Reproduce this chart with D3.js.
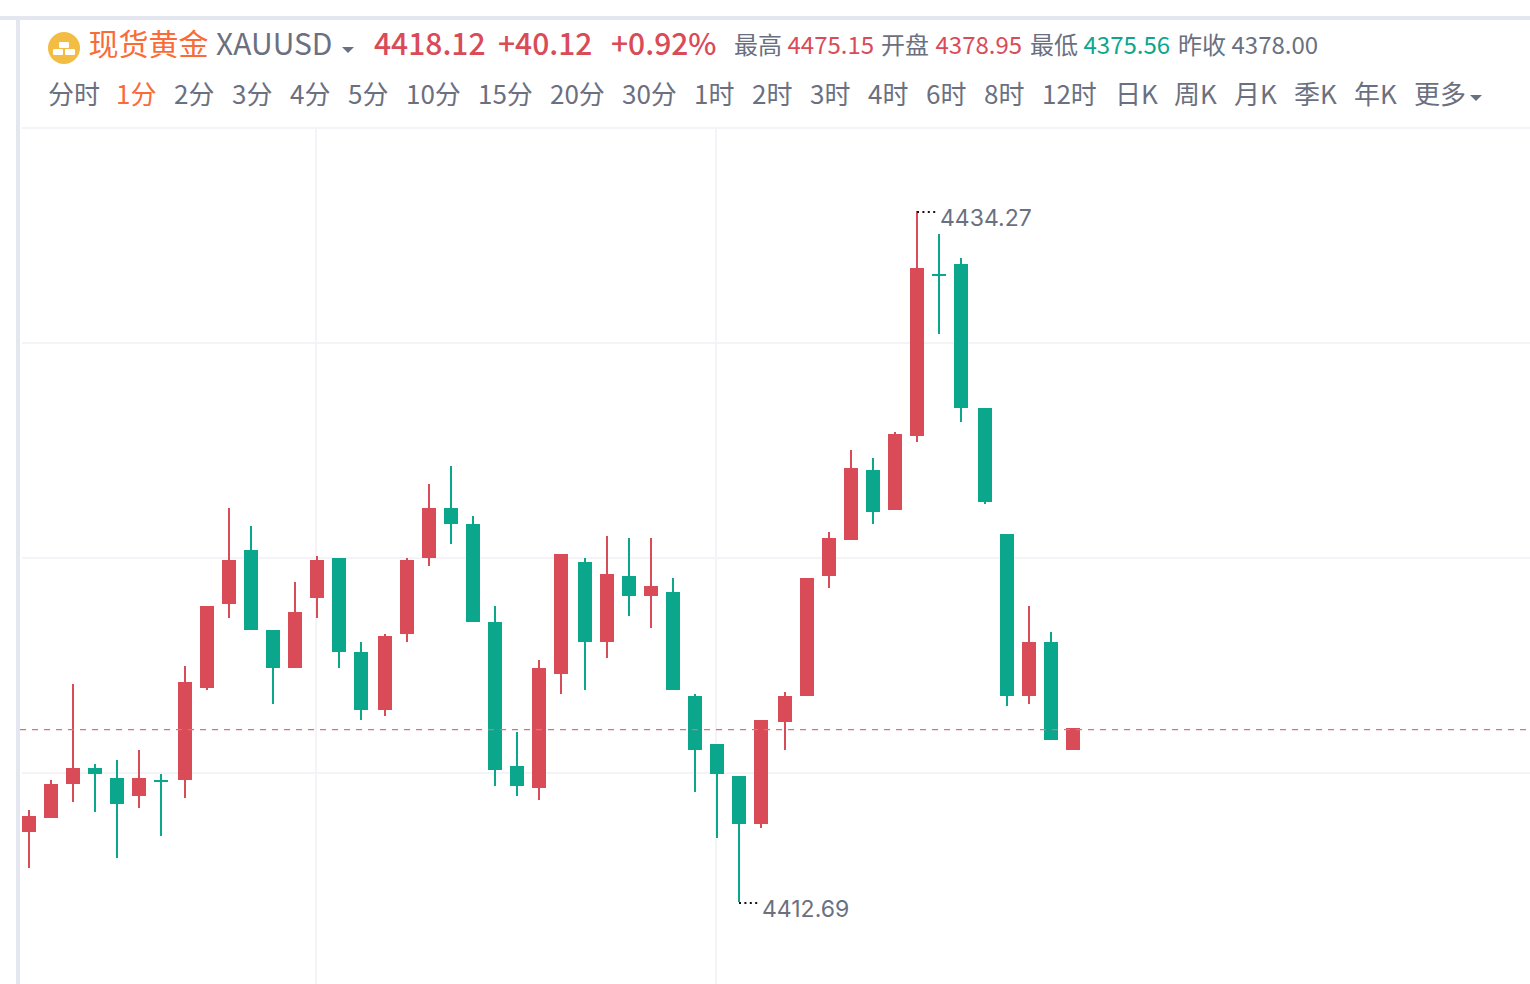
<!DOCTYPE html>
<html>
<head>
<meta charset="utf-8">
<script src="https://cdn.jsdelivr.net/npm/d3@7"></script>
<style>
  html, body { margin: 0; padding: 0; background: #fff; overflow: hidden; }
  svg { display: block; }
  text { font-family: "Noto Sans CJK SC", "Noto Sans", sans-serif; }
</style>
</head>
<body>
<script>
// candle values, one minute each
const opens = [4414.88,4415.31,4416.38,4416.88,4416.56,4416.00,4416.50,4416.50,4419.37,4422.00,4423.68,4421.19,4420.00,4422.18,4423.43,4420.50,4418.69,4421.06,4423.43,4425.00,4424.50,4421.43,4416.94,4416.25,4419.81,4423.31,4420.81,4422.87,4422.25,4422.37,4419.12,4417.62,4416.63,4415.13,4418.31,4419.12,4422.87,4424.00,4426.18,4424.93,4427.24,4432.30,4432.62,4428.12,4424.18,4419.12,4420.81,4417.44];
const closes = [4415.38,4416.38,4416.88,4416.69,4415.75,4416.56,4416.44,4419.56,4421.93,4423.37,4421.19,4420.00,4421.75,4423.37,4420.50,4418.69,4421.00,4423.37,4425.00,4424.50,4421.43,4416.81,4416.31,4420.00,4423.56,4420.81,4422.93,4422.25,4422.56,4419.31,4417.44,4416.69,4415.13,4418.37,4419.12,4422.81,4424.06,4426.24,4424.87,4427.31,4432.49,4432.24,4428.12,4425.18,4419.12,4420.81,4417.75,4418.12];
const highs = [4415.56,4416.50,4419.50,4417.00,4417.13,4417.44,4416.69,4420.06,4421.93,4425.00,4424.43,4421.19,4422.68,4423.50,4423.43,4420.81,4421.06,4423.43,4425.74,4426.31,4424.75,4421.93,4418.00,4420.25,4423.56,4423.43,4424.12,4424.06,4424.06,4422.81,4419.19,4417.62,4416.63,4418.37,4419.25,4422.81,4424.25,4426.81,4426.56,4427.37,4434.27,4433.55,4432.80,4428.12,4424.18,4421.93,4421.12,4418.12];
const lows = [4413.75,4415.31,4415.81,4415.50,4414.07,4415.63,4414.75,4415.94,4419.31,4421.56,4421.19,4418.87,4420.00,4421.56,4420.00,4418.37,4418.50,4420.81,4423.18,4423.87,4421.43,4416.31,4416.00,4415.88,4419.19,4419.31,4420.31,4421.62,4421.25,4419.31,4416.13,4414.69,4412.69,4415.00,4417.44,4419.12,4422.50,4424.00,4424.50,4424.93,4427.06,4430.43,4427.68,4425.12,4418.81,4418.87,4417.75,4417.44];
const gridPrices = [4430.15, 4423.43, 4416.72];
const gridCandles = [13, 31];
const lastPrice = 4418.12;
const maxMark = { index: 40, value: 4434.27 };
const minMark = { index: 32, value: 4412.69 };

// header texts
const stats = [
  { label: "最高", value: "4475.15", kind: "up" },
  { label: "开盘", value: "4378.95", kind: "up" },
  { label: "最低", value: "4375.56", kind: "down" },
  { label: "昨收", value: "4378.00", kind: "flat" },
];
const periods = ["分时","1分","2分","3分","4分","5分","10分","15分","20分","30分","1时","2时","3时","4时","6时","8时","12时","日K","周K","月K","季K","年K","更多"];
const activePeriod = "1分";
const periodX = [48,116,174,232,290,348,406,478,550,622,694,752,810,868,926,984,1042,1115,1174,1234,1294,1354,1414];

const colors = {
  up: "#da4b58", down: "#0aa78d", flat: "#6b7080", orange: "#fb6b37",
  frame: "#e4e6f0", grid: "#f4f4f8", dash: "#d9727f", dot: "#111",
};

const width = 1530, height = 984;

const svg = d3.select("body").append("svg")
  .attr("width", width)
  .attr("height", height);

// set the ranges
const x = d3.scaleLinear().domain([0, opens.length - 1]).range([28.6, 1072.94]);
const y = d3.scaleLinear().domain([minMark.value, maxMark.value]).range([902, 211]);

// candle centers sit on odd pixels
const cx = (i) => 2 * Math.round((x(i) - 1) / 2) + 1;

// page frame
svg.append("rect").attr("x", 0).attr("y", 16).attr("width", width).attr("height", 4).attr("fill", colors.frame);
svg.append("rect").attr("x", 16).attr("y", 20).attr("width", 4).attr("height", height - 20).attr("fill", colors.frame);
svg.append("rect").attr("x", 22).attr("y", 127).attr("width", width - 22).attr("height", 2).attr("fill", colors.grid);

// grid
svg.selectAll(".grid-h").data(gridPrices).enter().append("rect")
  .attr("x", 22).attr("width", width - 22)
  .attr("y", (d) => Math.round(y(d)) - 1).attr("height", 2)
  .attr("fill", colors.grid);
svg.selectAll(".grid-v").data(gridCandles).enter().append("rect")
  .attr("x", (d) => cx(d) - 2).attr("width", 2)
  .attr("y", 129).attr("height", height - 129)
  .attr("fill", colors.grid);

// candles
const candles = d3.range(opens.length).map((i) => ({
  i, open: opens[i], close: closes[i], high: highs[i], low: lows[i],
  up: closes[i] > opens[i],
}));
const g = svg.selectAll(".candle").data(candles).enter().append("g")
  .attr("fill", (d) => (d.up ? colors.up : colors.down))
  .attr("shape-rendering", "crispEdges");
g.append("rect")
  .attr("x", (d) => cx(d.i) - 1).attr("width", 2)
  .attr("y", (d) => Math.round(y(d.high)))
  .attr("height", (d) => Math.round(y(d.low)) - Math.round(y(d.high)));
g.append("rect")
  .attr("x", (d) => cx(d.i) - 7).attr("width", 14)
  .attr("y", (d) => Math.round(y(Math.max(d.open, d.close))))
  .attr("height", (d) => Math.max(2, Math.round(y(Math.min(d.open, d.close))) - Math.round(y(Math.max(d.open, d.close)))));

// last price line
svg.append("line")
  .attr("x1", 20).attr("x2", width)
  .attr("y1", y(lastPrice) + 1.5).attr("y2", y(lastPrice) + 1.5)
  .attr("stroke", colors.dash).attr("stroke-width", 1.2)
  .attr("stroke-dasharray", "6 6");

// high / low markers
[maxMark, minMark].forEach((m) => {
  const px = cx(m.index), py = Math.round(y(m.value));
  svg.append("line")
    .attr("x1", px).attr("x2", px + 21)
    .attr("y1", py + 1).attr("y2", py + 1)
    .attr("stroke", colors.dot).attr("stroke-width", 2)
    .attr("stroke-dasharray", "2 3.4");
  svg.append("text")
    .attr("x", px + 23).attr("y", py + 15)
    .attr("fill", colors.flat)
    .style("font-family", 'Inter, sans-serif')
    .style("font-size", "23px")
    .text(m.value.toFixed(2));
});

// header: icon
const icon = svg.append("g").attr("transform", "translate(64,48)");
icon.append("circle").attr("r", 16).attr("fill", "#f2bd42");
[[-5, -6], [-11, 1], [1, 1]].forEach((p) => {
  icon.append("rect").attr("x", p[0]).attr("y", p[1]).attr("width", 10).attr("height", 6).attr("rx", 1).attr("fill", "#fff");
});

const label = (txt, xPos, yPos, size, fill, weight) =>
  svg.append("text").attr("x", xPos).attr("y", yPos)
    .attr("fill", fill).style("font-size", size + "px")
    .style("font-weight", weight || 400).text(txt);

label("现货黄金", 88.5, 55, 30, colors.orange);
label("XAUUSD", 216, 55, 30, colors.flat);
label("4418.12", 374, 55, 30, colors.up, 500);
label("+40.12", 498, 55, 30, colors.up, 500);
label("+0.92%", 611, 55, 30, colors.up, 500);

svg.append("polygon").attr("points", "342,47 354,47 348,53").attr("fill", colors.flat);

const statX = [734, 881, 1030, 1178];
const statValueX = [787.5, 935.5, 1083.5, 1231.5];
stats.forEach((s, i) => {
  label(s.label, statX[i], 54, 24, colors.flat);
  label(s.value, statValueX[i], 54, 24, colors[s.kind]);
});

periods.forEach((p, i) => {
  label(p, periodX[i], 104, 26, p === activePeriod ? colors.orange : colors.flat);
});
svg.append("polygon").attr("points", "1470,95 1482,95 1476,101").attr("fill", colors.flat);
</script>
</body>
</html>
